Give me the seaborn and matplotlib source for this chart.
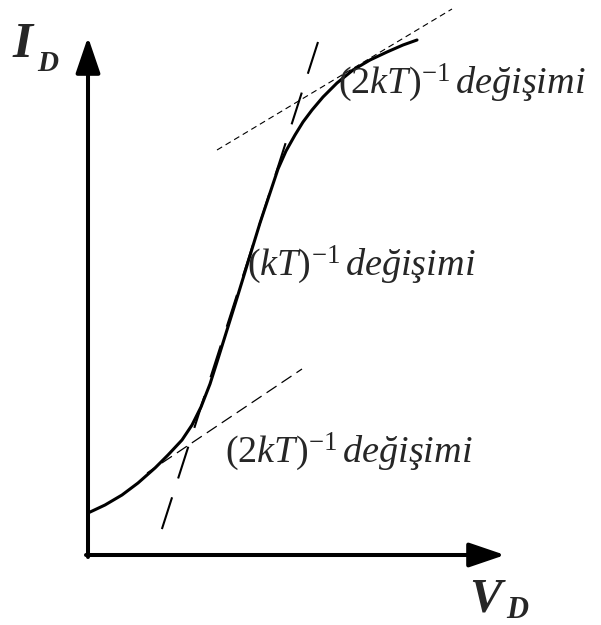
import matplotlib
matplotlib.use("Agg")
import matplotlib.pyplot as plt
import seaborn as sns
import pandas as pd

# Diode-like I-V characteristic (schematic units)
v_d = [0.0, 1.7, 3.4, 5.0, 6.7, 8.0, 9.4, 10.4, 11.3, 12.2, 12.9, 13.9, 14.9,
       15.7, 16.4, 17.2, 18.2, 19.0, 19.8, 20.7, 21.5, 22.4, 23.5, 24.9,
       26.5, 28.2, 29.9, 31.5, 32.9]
i_d = [4.2, 5.0, 6.0, 7.2, 8.7, 10.0, 11.5, 13.0, 14.8, 17.1, 19.3, 22.5, 25.7,
       28.3, 30.6, 33.2, 36.2, 38.6, 40.4, 42.0, 43.3, 44.5, 45.8, 47.2,
       48.5, 49.5, 50.3, 51.0, 51.5]

# Tangent lines: (start, end) for each regime
steep_x = [23.0, 7.2]
steep_y = [51.3, 2.0]
upper_x = [12.9, 36.4]
upper_y = [40.5, 54.6]
lower_x = [5.9, 21.4]
lower_y = [8.2, 18.6]

axis_x_end = 41.7
axis_y_end = 51.8

labels = [r"$(2kT)^{-1}\,değişimi$", r"$(kT)^{-1}\,değişimi$", r"$(2kT)^{-1}\,değişimi$"]
label_x = [25.0, 15.9, 13.7]
label_y = [46.2, 28.0, 9.3]

sns.set_theme(style="white")
plt.rcParams["font.family"] = ["Liberation Serif", "DejaVu Serif"]
plt.rcParams["mathtext.fontset"] = "custom"
plt.rcParams["mathtext.rm"] = "Liberation Serif"
plt.rcParams["mathtext.it"] = "Liberation Serif:italic"
plt.rcParams["mathtext.bf"] = "Liberation Serif:bold"

fig = plt.figure(figsize=(6.01, 6.25), dpi=100)
ax = fig.add_axes([0, 0, 1, 1])
ax.set_xlim(-8.8, 51.3)
ax.set_ylim(-7.0, 55.5)
ax.axis("off")

# Axes with arrow heads
arrow_style = "-|>,head_length=22,head_width=7.5"
for start, end in [((-0.2, 0.0), (axis_x_end, 0.0)), ((0.0, -0.2), (0.0, axis_y_end))]:
    ax.annotate("", xy=end, xytext=start,
                arrowprops=dict(arrowstyle=arrow_style, mutation_scale=1,
                                lw=2.9, color="black", shrinkA=0, shrinkB=0,
                                joinstyle="round"))

# Characteristic curve
curve = pd.DataFrame({"V": v_d, "I": i_d})
sns.lineplot(data=curve, x="V", y="I", ax=ax, color="black", lw=2.2,
             sort=False, estimator=None, solid_joinstyle="round",
             solid_capstyle="round")

# Tangents
ax.plot(steep_x, steep_y, color="black", lw=1.5, linestyle=(0, (16, 9.5)))
ax.plot(upper_x, upper_y, color="black", lw=0.8, linestyle=(0, (5.4, 3.6)))
ax.plot(lower_x, lower_y, color="black", lw=0.9, linestyle=(0, (9.6, 4.8)))

for txt, x, y in zip(labels, label_x, label_y):
    ax.text(x, y, txt, fontsize=27.5, ha="left", va="baseline")

# Axis names
ax.text(-7.6, 49.8, "I", fontsize=37, fontweight="bold", fontstyle="italic",
        ha="left", va="baseline")
ax.text(-5.1, 48.4, "D", fontsize=21, fontweight="bold", fontstyle="italic",
        ha="left", va="baseline")
ax.text(38.1, -5.7, "V", fontsize=35, fontweight="bold", fontstyle="italic",
        ha="left", va="baseline")
ax.text(41.8, -6.3, "D", fontsize=22, fontweight="bold", fontstyle="italic",
        ha="left", va="baseline")

fig.savefig("out.png", dpi=100, facecolor="white")
